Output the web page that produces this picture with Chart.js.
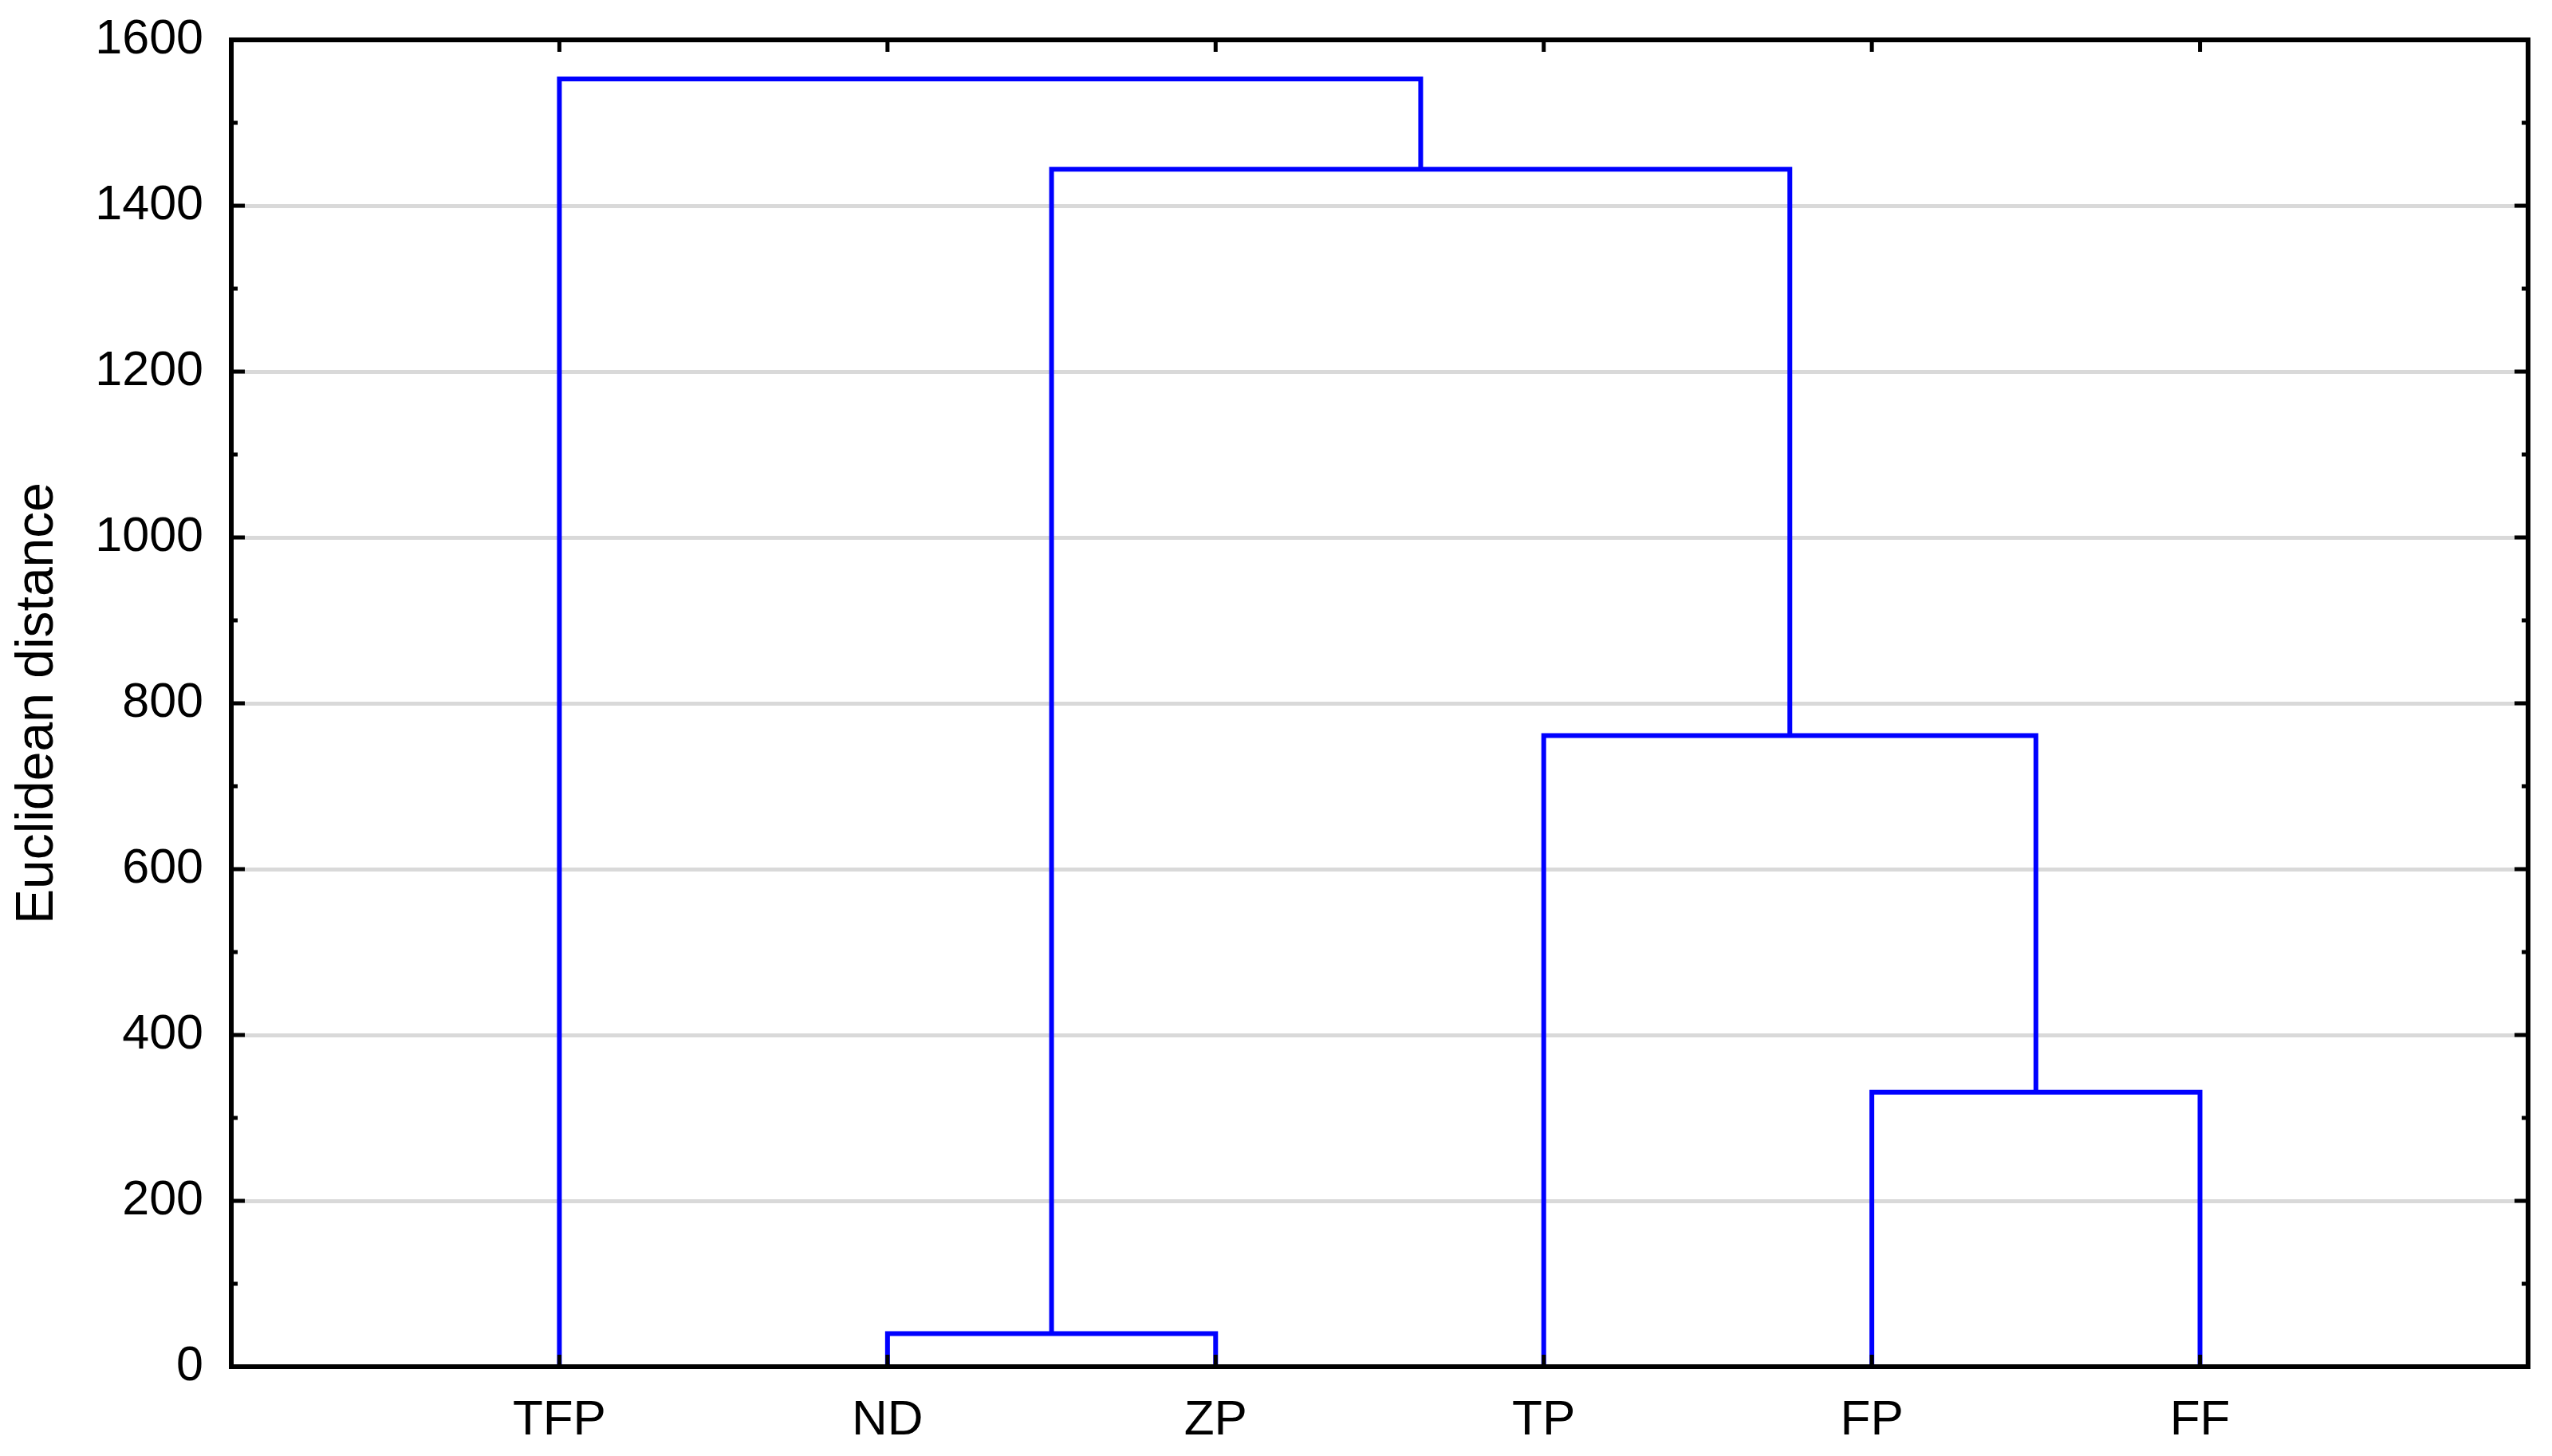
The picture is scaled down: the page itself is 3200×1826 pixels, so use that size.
<!DOCTYPE html>
<html>
<head>
<meta charset="utf-8">
<script src="https://cdn.jsdelivr.net/npm/chart.js@4.4.1/dist/chart.umd.min.js"></script>
<style>
    html, body { margin: 0; padding: 0; background: #fff; }
    #wrap { width: 3200px; height: 1826px; }
</style>
</head>
<body>
<div id="wrap"><canvas id="chart" width="3200" height="1826"></canvas></div>
<script>
// leaves of the dendrogram, left to right
const leaves = ["TFP", "ND", "ZP", "TP", "FP", "FF"];
// linkage: ids 0-5 are leaves, each merge makes a new id (6, 7, ...)
const linkA = [1, 4, 3, 6, 0];
const linkB = [2, 5, 7, 8, 9];
const linkHeight = [40, 331, 761, 1444, 1553];
const yTicks = [0, 200, 400, 600, 800, 1000, 1200, 1400, 1600];
const yMinorTicks = [100, 300, 500, 700, 900, 1100, 1300, 1500];

// build the U shaped links from the linkage
const nodeX = leaves.map((_, i) => i + 1);
const nodeY = leaves.map(() => 0);
const datasets = [];
linkA.forEach((a, i) => {
    const b = linkB[i];
    const h = linkHeight[i];
    datasets.push({
        data: [
            { x: nodeX[a], y: nodeY[a] },
            { x: nodeX[a], y: h },
            { x: nodeX[b], y: h },
            { x: nodeX[b], y: nodeY[b] }
        ],
        showLine: true,
        borderColor: "#0000ff",
        borderWidth: 6,
        borderJoinStyle: "miter",
        pointRadius: 0,
        tension: 0
    });
    nodeX.push((nodeX[a] + nodeX[b]) / 2);
    nodeY.push(h);
});

// frame box and inward tick marks
const frame = {
    id: "frame",
    afterDatasetsDraw(chart) {
        const { ctx, chartArea: a, scales: { x, y } } = chart;
        ctx.save();
        ctx.strokeStyle = "#000";
        ctx.lineCap = "butt";
        ctx.lineWidth = 5;
        ctx.beginPath();
        yTicks.forEach(v => {
            const p = y.getPixelForValue(v);
            ctx.moveTo(a.left, p); ctx.lineTo(a.left + 17, p);
            ctx.moveTo(a.right, p); ctx.lineTo(a.right - 17, p);
        });
        yMinorTicks.forEach(v => {
            const p = y.getPixelForValue(v);
            ctx.moveTo(a.left, p); ctx.lineTo(a.left + 8, p);
            ctx.moveTo(a.right, p); ctx.lineTo(a.right - 8, p);
        });
        leaves.forEach((_, i) => {
            const p = x.getPixelForValue(i + 1);
            ctx.moveTo(p, a.bottom); ctx.lineTo(p, a.bottom - 15);
            ctx.moveTo(p, a.top); ctx.lineTo(p, a.top + 15);
        });
        ctx.stroke();
        ctx.lineWidth = 6;
        ctx.strokeRect(a.left, a.top, a.right - a.left, a.bottom - a.top);
        ctx.restore();
    }
};

const ctx = document.getElementById("chart").getContext("2d");
new Chart(ctx, {
    type: "scatter",
    data: { datasets: datasets },
    options: {
        responsive: false,
        devicePixelRatio: 1,
        animation: false,
        layout: { padding: { top: 50, right: 30, left: 0, bottom: 0 } },
        plugins: {
            legend: { display: false },
            tooltip: { enabled: false }
        },
        scales: {
            x: {
                type: "linear",
                min: 0,
                max: 7,
                afterBuildTicks: scale => { scale.ticks = leaves.map((_, i) => ({ value: i + 1 })); },
                afterFit: scale => { scale.height = 112; scale.paddingLeft = 0; scale.paddingRight = 0; },
                grid: { display: false, drawTicks: false },
                border: { display: false },
                ticks: {
                    padding: 31,
                    color: "#000",
                    font: { family: "Liberation Sans", size: 62 },
                    maxRotation: 0,
                    callback: v => leaves[Math.round(v) - 1]
                }
            },
            y: {
                min: 0,
                max: 1600,
                afterBuildTicks: scale => { scale.ticks = yTicks.map(v => ({ value: v })); },
                afterFit: scale => { scale.width = 290; scale.paddingTop = 0; scale.paddingBottom = 0; },
                grid: { color: "#d9d9d9", lineWidth: 5, drawTicks: false },
                border: { display: false },
                ticks: {
                    padding: 35,
                    color: "#000",
                    font: { family: "Liberation Sans", size: 61 },
                    callback: v => String(v)
                },
                title: {
                    display: true,
                    text: "Euclidean distance",
                    color: "#000",
                    font: { family: "Liberation Sans", size: 66 },
                    padding: { top: 8, bottom: 0 }
                }
            }
        }
    },
    plugins: [frame]
});
</script>
</body>
</html>
